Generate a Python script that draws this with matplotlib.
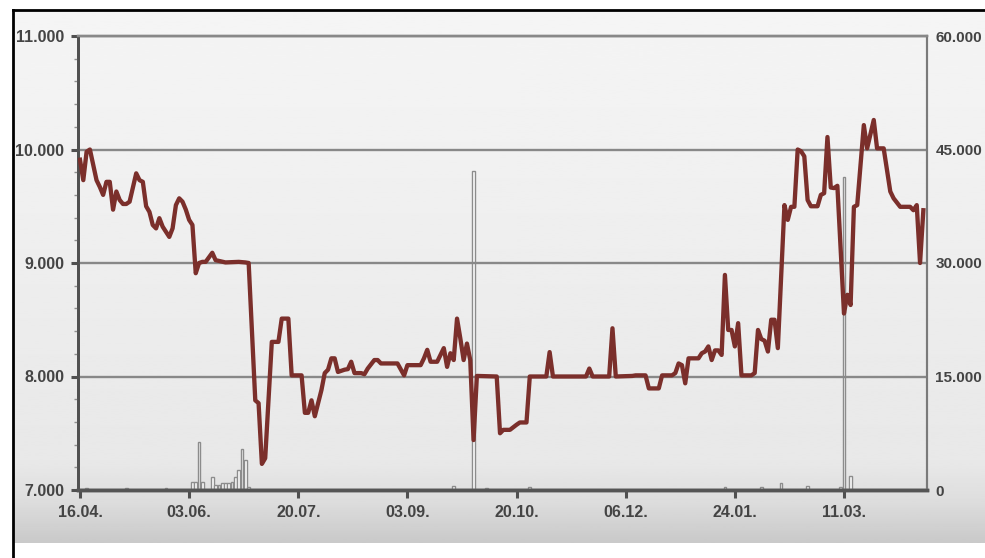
import numpy as np
import matplotlib.pyplot as plt
from matplotlib.lines import Line2D
from matplotlib.ticker import MultipleLocator, FuncFormatter

# price line (trading day index, price)
day = [0, 1, 2, 3, 5, 6, 7, 8, 9, 10, 11, 12, 13, 14, 15, 17, 18, 19, 20, 21,
       22, 23, 24, 25, 27, 28, 29, 30, 31, 32, 33, 34, 35, 36, 37, 38, 40, 41, 44, 48,
       50, 51, 53, 54, 55, 56, 58, 60, 61, 63, 64, 67, 68, 69, 70, 71, 73, 74, 75, 76,
       77, 78, 80, 81, 82, 83, 85, 86, 87, 89, 90, 91, 96, 98, 99, 103, 104, 105, 106, 108,
       110, 111, 112, 113, 114, 115, 116, 117, 118, 119, 120, 126, 127, 128, 130, 132, 133, 135, 136, 140,
       141, 142, 143, 153, 154, 155, 160, 161, 162, 167, 168, 171, 172, 175, 176, 179, 180, 181, 182, 183,
       184, 187, 188, 189, 190, 191, 192, 193, 194, 195, 196, 197, 198, 199, 200, 203, 204, 205, 206, 207,
       208, 209, 210, 211, 213, 214, 215, 216, 217, 218, 219, 220, 221, 223, 224, 225, 226, 227, 228, 229,
       231, 232, 233, 234, 235, 237, 238, 240, 241, 243, 245, 246, 248, 251, 252, 253, 254, 255]
price = [9910, 9730, 9980, 10000, 9730, 9670, 9600, 9715, 9715, 9470, 9630, 9555, 9520, 9520, 9540, 9790, 9730, 9715, 9500, 9450,
         9335, 9305, 9395, 9320, 9230, 9305, 9510, 9570, 9540, 9470, 9380, 9335, 8910, 9000, 9010, 9010, 9090, 9025, 9005, 9010,
         9005, 9000, 7790, 7765, 7230, 7280, 8305, 8305, 8510, 8510, 8010, 8010, 7680, 7680, 7790, 7650, 7880, 8030, 8060, 8160,
         8160, 8040, 8060, 8065, 8130, 8030, 8030, 8020, 8070, 8145, 8145, 8115, 8115, 8010, 8100, 8100, 8160, 8235, 8130, 8130,
         8250, 8085, 8205, 8145, 8510, 8335, 8145, 8290, 8145, 7440, 8005, 8000, 7500, 7530, 7530, 7575, 7595, 7595, 8000, 8000,
         8000, 8215, 8000, 8000, 8070, 8000, 8000, 8425, 8000, 8005, 8010, 8010, 7895, 7895, 8010, 8010, 8030, 8115, 8100, 7940,
         8160, 8160, 8205, 8220, 8265, 8145, 8230, 8230, 8190, 8895, 8410, 8410, 8265, 8470, 8010, 8010, 8030, 8410, 8330, 8315,
         8220, 8500, 8500, 8250, 9510, 9380, 9495, 9495, 10000, 9985, 9940, 9555, 9500, 9500, 9600, 9615, 10110, 9665, 9660, 9680,
         8555, 8720, 8630, 9495, 9510, 10215, 10010, 10260, 10010, 10010, 9630, 9570, 9495, 9495, 9465, 9510, 9000, 9465]

# volume bars (right axis)
vol_day = [2, 14, 26, 34, 35, 36, 37, 40, 41, 42, 43, 44, 45, 46, 47, 48, 49, 50, 51,
           113, 119, 123, 136, 195, 206, 212, 220, 230, 231, 233]
volume = [300, 250, 250, 1100, 1000, 6400, 1000, 1700, 700, 700, 900, 900, 900, 1000, 1700, 2700, 5400, 3900, 400,
          530, 42100, 200, 360, 360, 360, 880, 530, 360, 41300, 1800]

tick_days = [0, 33, 66, 99, 132, 165, 198, 231]
tick_labels = ["16.04.", "03.06.", "20.07.", "03.09.", "20.10.", "06.12.", "24.01.", "11.03."]
left_ticks = [7000, 8000, 9000, 10000, 11000]
right_ticks = [0, 15000, 30000, 45000, 60000]

plt.rcParams['font.family'] = ['Liberation Sans', 'DejaVu Sans']
txt = '#444444'
fs = 11.5

fig = plt.figure(figsize=(9.85, 5.58), dpi=100)
fig.patch.set_facecolor('white')

# grey gradient panel behind the chart
bg = fig.add_axes([13/985, 15/558, 972/985, 533/558], zorder=-10)
grad = np.interp(np.linspace(0, 1, 300), [0, 0.85, 0.92, 1], [0.96, 0.91, 0.87, 0.79])
bg.imshow(grad[:, None], cmap='gray', vmin=0, vmax=1, aspect='auto', extent=[0, 1, 0, 1])
bg.axis('off')

ax = fig.add_axes([78/985, 68/558, 849/985, 454/558])
ax2 = ax.twinx()
ax.set_zorder(ax2.get_zorder() + 1)
ax.patch.set_visible(False)
ax2.set_facecolor('white')

ax2.bar(vol_day, volume, width=0.8, facecolor='white', edgecolor='#8c8c8c', linewidth=1.0)
ax2.set_ylim(0, 60000)
ax2.set_yticks(right_ticks)
ax2.yaxis.set_major_formatter(FuncFormatter(lambda v, p: f"{int(v):,}".replace(",", ".")))
ax2.tick_params(axis='y', length=0, pad=6, labelsize=11, labelcolor=txt)
for lab in ax2.get_yticklabels():
    lab.set_fontweight('bold')

ax.plot(day, price, color='#7b2f2b', lw=3.1, solid_joinstyle='round', zorder=5)
ax.set_xlim(-0.6, 256.1)
ax.set_ylim(7000, 11000)
ax.set_yticks(left_ticks)
ax.yaxis.set_minor_locator(MultipleLocator(200))
ax.yaxis.set_major_formatter(FuncFormatter(lambda v, p: f"{int(v):,}".replace(",", ".")))
ax.set_xticks(tick_days)
ax.set_xticklabels(tick_labels)
ax.grid(axis='y', color='#888888', lw=1.7)
ax.set_axisbelow(True)

ax.tick_params(axis='y', which='major', direction='out', length=5, width=2.2, color='#505050',
               pad=5, labelsize=fs, labelcolor=txt)
ax.tick_params(axis='y', which='minor', direction='out', length=3, width=1, color='#909090')
ax.tick_params(axis='x', direction='out', length=6, width=2.2, color='#505050',
               pad=5, labelsize=fs, labelcolor=txt)
for lab in ax.get_yticklabels() + ax.get_xticklabels():
    lab.set_fontweight('bold')

for a in (ax, ax2):
    a.spines['top'].set_color('#888888')
    a.spines['top'].set_linewidth(1.7)
    a.spines['left'].set_color('#505050')
    a.spines['left'].set_linewidth(2)
    a.spines['right'].set_color('#7a7a7a')
    a.spines['right'].set_linewidth(1.5)
    a.spines['bottom'].set_color('#555555')
    a.spines['bottom'].set_linewidth(2.5)

# black frame at top and left
fig.add_artist(Line2D([13/985, 1], [1 - 10/558, 1 - 10/558], color='black', lw=2))
fig.add_artist(Line2D([13/985, 13/985], [0, 1 - 10/558], color='black', lw=2))

fig.savefig('out.png', dpi=100)
